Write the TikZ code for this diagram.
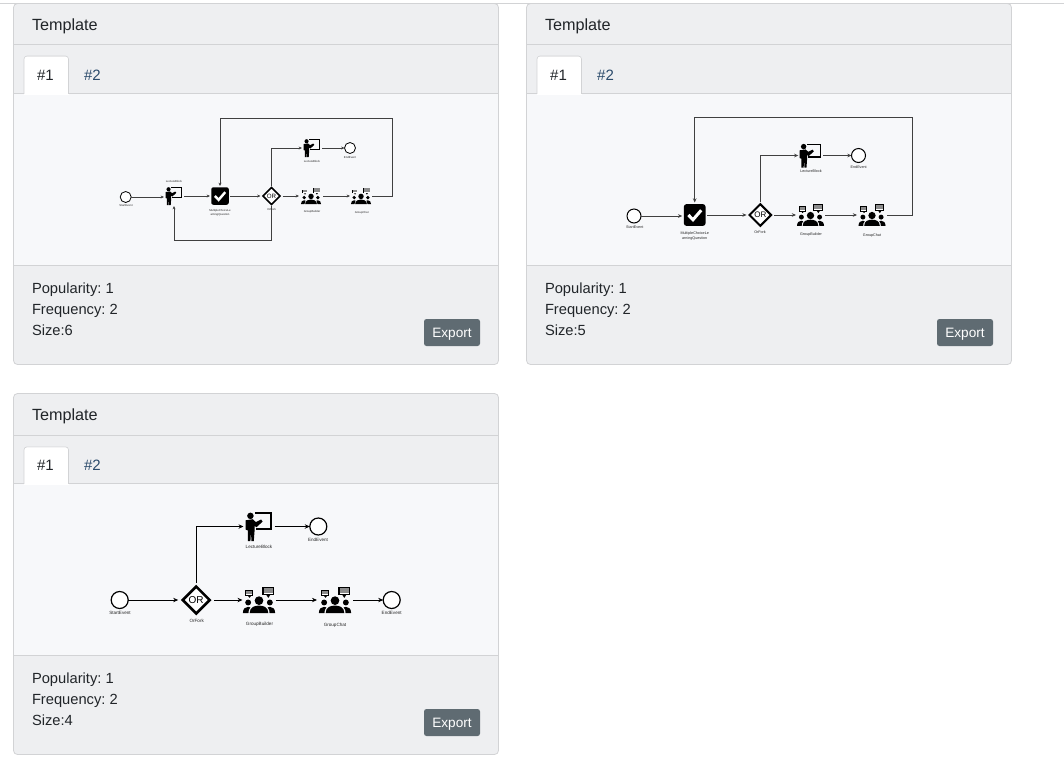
\documentclass[tikz,border=0pt]{standalone}
\usepackage{fontspec}
\setmainfont{Liberation Sans}
\usetikzlibrary{arrows.meta,shapes.geometric}
\definecolor{cardbg}{HTML}{EEEFF1}
\definecolor{bodybg}{HTML}{F7F8FA}
\definecolor{edgegrey}{HTML}{D2D3D5}
\definecolor{inktext}{HTML}{212529}
\definecolor{tablink}{HTML}{2A4A6B}
\definecolor{btn}{HTML}{5F6B72}
\definecolor{bubblegrey}{HTML}{8C8C8C}
\tikzset{
  txt/.style={anchor=base west,inner sep=0pt,text=inktext,font=\frenchspacing\fontsize{#1}{#1}\selectfont},
  tabtxt/.style={anchor=base,inner sep=0pt,font=\fontsize{15}{15}\selectfont},
  lbl/.style={inner sep=0pt,align=center,text=black!85,font=\fontsize{#1}{#1}\selectfont},
  hold/.style={inner sep=0pt,outer sep=0pt,rectangle},
  evt/.style={circle,draw=black,fill=white,inner sep=0pt,outer sep=0pt},
  conn/.style={draw=black!75,line width=#1},
  exportbtn/.style={fill=btn,rounded corners=2.5pt,text=white,inner sep=0pt,minimum width=56pt,minimum height=27pt,text height=9.7pt,text depth=0pt,font=\fontsize{13.6}{14}\selectfont},
}
\newcommand\lecglyph[2]{%
  \begin{scope}[shift={(#1.center)},scale=#2]
    \draw[black,line width=#2*8pt,line cap=butt] (-16,-51) -- (45,-51) -- (45,8) -- (-11,8);
    \fill[black] (-33,-41) circle (12.5);
    \fill[black] (-51,-24) -- (-24,-28) -- (-12,-17) -- (8,-27) -- (14,-19) -- (-10,3) -- (-17,-3)
      -- (-17,15) -- (-20,56) -- (-29,56) -- (-31,20) -- (-33,56) -- (-43,56) -- (-43,15) -- (-51,12) -- cycle;
  \end{scope}}
\newcommand\grpglyph[2]{%
  \begin{scope}[shift={(#1.center)},scale=#2]
    \fill[black] (0,2) circle (14);
    \fill[black] (-35,8) circle (9.5);
    \fill[black] (35,8) circle (9.5);
    \fill[black] (-30,42) .. controls (-30,22) and (-13,18) .. (0,18) .. controls (13,18) and (30,22) .. (30,42) -- cycle;
    \fill[black] (-52,42) .. controls (-52,28) and (-44,22) .. (-35,22) .. controls (-32,22) and (-30,23) .. (-28,24) .. controls (-33,29) and (-34,35) .. (-34,42) -- cycle;
    \fill[black] (52,42) .. controls (52,28) and (44,22) .. (35,22) .. controls (32,22) and (30,23) .. (28,24) .. controls (33,29) and (34,35) .. (34,42) -- cycle;
    \fill[black] (-45,-33) rectangle (-18,-13);
    \fill[black] (-36,-14) -- (-25,-14) -- (-30.5,-7) -- cycle;
    \fill[bubblegrey] (-41,-29) rectangle (-22,-17);
    \fill[white] (-41,-20) rectangle (-22,-17);
    \fill[black] (11,-43) rectangle (48,-15);
    \fill[black] (24,-16) -- (36,-16) -- (30,-7) -- cycle;
    \fill[bubblegrey] (15,-39) rectangle (44,-19);
    \fill[white] (15,-23) rectangle (44,-19);
  \end{scope}}
\newcommand\chkglyph[2]{%
  \begin{scope}[shift={(#1.center)},scale=#2]
    \fill[black,rounded corners=#2*12pt] (-50,-50) rectangle (50,50);
    \draw[white,line width=#2*14pt] (-29,0) -- (-8,22) -- (30,-22);
  \end{scope}}
\newcommand\cardframe[4]{% x, offset, id, tab offset
  \begin{scope}[shift={(#1,#2)}]
    \fill[white] (0,0) rectangle (485,361);
    \fill[cardbg,rounded corners=4pt] (0,0) rectangle (485,361);
    \fill[bodybg] (0.5,90) rectangle (484.5,262);
    \draw[edgegrey,line width=0.8pt,rounded corners=4pt] (0,0) rectangle (485,361);
    \draw[edgegrey,line width=0.8pt] (0,41+#4) -- (485,41+#4);
    \draw[edgegrey,line width=0.8pt] (0,90.3) -- (485,90.3);
    \draw[edgegrey,line width=0.8pt] (0,262) -- (485,262);
    \fill[white,rounded corners=3pt] (10.5,53+#4) -- (10.5,91) -- (55,91) -- (55,53+#4) -- cycle;
    \fill[white] (10.5,60+#4) rectangle (55,91);
    \draw[edgegrey,line width=0.6pt,rounded corners=3pt] (10.5,90.3) -- (10.5,52.5+#4) -- (55,52.5+#4) -- (55,90.3);
    \node[txt=16.2] (tpl#3) at (18.3,26.5) {Template};
    \node[tabtxt,text=inktext] (one#3) at (32,76.5+#4) {\#1};
    \node[tabtxt,text=tablink] (two#3) at (79,76.5+#4) {\#2};
    \node[txt=14.7] (pop#3) at (18.3,289.5) {Popularity: 1};
    \node[txt=14.7] (frq#3) at (18.3,310.5) {Frequency: 2};
    \node[exportbtn] (exp#3) at (438.5,329) {Export};
  \end{scope}}
\begin{document}
\begin{tikzpicture}[x=1pt,y=-1pt]
\useasboundingbox (0,0) rectangle (1064,756);
\fill[white] (0,0) rectangle (1064,756);
\cardframe{13.5}{3.5}{A}{0}
\cardframe{526.5}{3.5}{B}{0}
\cardframe{13.5}{393.5}{C}{0.8}
\draw[edgegrey,line width=0.8pt] (0,3.5) -- (1064,3.5);
\node[txt=14.7] (sizeA) at (31.8,335) {Size:6};
\node[txt=14.7] (sizeB) at (544.8,335) {Size:5};
\node[txt=14.7] (sizeC) at (31.8,725) {Size:4};

% ---------- diagram 1
\begin{scope}
\tikzset{tip/.style={-{Stealth[length=3.4pt,width=3pt]}}}
\node[evt,line width=.8pt,minimum size=11pt] (a1) at (125.7,197) {};
\node[hold,minimum width=20pt,minimum height=20pt] (a2) at (174,196) {};
\node[hold,minimum width=20pt,minimum height=20pt] (a3) at (220,196) {};
\node[hold,minimum width=22pt,minimum height=20pt] (a4) at (271.5,196) {};
\node[hold,minimum width=24pt,minimum height=16pt] (a5) at (311,196) {};
\node[hold,minimum width=22pt,minimum height=16pt] (a6) at (361,196) {};
\node[hold,minimum width=20pt,minimum height=20pt] (a7) at (312,148) {};
\node[evt,line width=.8pt,minimum size=11pt] (a8) at (350,148) {};
\lecglyph{a2}{.165}
\chkglyph{a3}{.175}
\node[diamond,draw=black,fill=white,line width=1.6pt,inner sep=0pt,minimum width=17.8pt,minimum height=17.8pt,font=\fontsize{6.2}{6}\selectfont] (a4d) at (a4.center) {OR};
\grpglyph{a5}{.195}
\grpglyph{a6}{.195}
\lecglyph{a7}{.165}
\coordinate (a9) at (392.7,118.3);
\coordinate (a10) at (271.5,240);
\draw[conn=.8pt,tip] (a1.east) -- (a2.west |- a1.east);
\draw[conn=.8pt,tip] (a2.east) -- (a3.west);
\draw[conn=.8pt,tip] (a3.east) -- (a4.west);
\draw[conn=.8pt,tip] (a4.east) -- (a5.west);
\draw[conn=.8pt,tip] (a5.east) -- (a6.west);
\draw[conn=.8pt,tip] (a6.east) -| (a9) -| (a3.north);
\draw[conn=.8pt,tip] (a4.north) |- (a7.west);
\draw[conn=.8pt,tip] (a7.east) -- (a8.west);
\draw[conn=.8pt,tip] (a4.south) -- (a10) -| (a2.south);
\node[lbl=2.8] (a1t) at (126,205.5) {StartEvent};
\node[lbl=2.8] (a2t) at (174,181) {LectureBlock};
\node[lbl=2.8] (a3t) at (220,212.5) {MultipleChoiceLe\\[1.2pt]arningQuestion};
\node[lbl=2.8] (a4t) at (271.7,209.7) {OrFork};
\node[lbl=2.8] (a5t) at (312,211.7) {GroupBuilder};
\node[lbl=2.8] (a6t) at (361.7,212.7) {GroupChat};
\node[lbl=2.8] (a7t) at (312,161.7) {LectureBlock};
\node[lbl=2.8] (a8t) at (350,157.7) {EndEvent};
\end{scope}

% ---------- diagram 2
\begin{scope}
\tikzset{tip/.style={-{Stealth[length=4.2pt,width=3.6pt]}}}
\node[evt,line width=1pt,minimum size=14pt] (b1) at (634,216) {};
\node[hold,minimum width=25pt,minimum height=25pt] (b2) at (694.7,215) {};
\node[hold,minimum width=27.5pt,minimum height=26pt] (b3) at (760.3,215) {};
\node[hold,minimum width=29pt,minimum height=22pt] (b4) at (810.5,215) {};
\node[hold,minimum width=30pt,minimum height=22pt] (b5) at (872,215) {};
\node[hold,minimum width=25pt,minimum height=24pt] (b6) at (810.8,155.5) {};
\node[evt,line width=1pt,minimum size=14pt] (b7) at (858.5,155.5) {};
\chkglyph{b2}{.217}
\node[diamond,draw=black,fill=white,line width=2.1pt,inner sep=0pt,minimum width=22.5pt,minimum height=22.5pt,font=\fontsize{8}{8}\selectfont] (b3d) at (b3.center) {OR};
\grpglyph{b4}{.26}
\grpglyph{b5}{.26}
\lecglyph{b6}{.217}
\coordinate (b8) at (912.3,117.7);
\draw[conn=1pt,tip] (b1.east) -- (b2.west |- b1.east);
\draw[conn=1pt,tip] (b2.east) -- (b3.west);
\draw[conn=1pt,tip] (b3.east) -- (b4.west);
\draw[conn=1pt,tip] (b4.east) -- (b5.west);
\draw[conn=1pt,tip] (b5.east) -| (b8) -| (b2.north);
\draw[conn=1pt,tip] (b3.north) |- (b6.west);
\draw[conn=1pt,tip] (b6.east) -- (b7.west);
\node[lbl=3.7] (b1t) at (634.7,227.7) {StartEvent};
\node[lbl=3.7] (b2t) at (694.7,236) {MultipleChoiceLe\\[1.4pt]arningQuestion};
\node[lbl=3.7] (b3t) at (760,231.7) {OrFork};
\node[lbl=3.7] (b4t) at (811,234.5) {GroupBuilder};
\node[lbl=3.7] (b5t) at (872,235.7) {GroupChat};
\node[lbl=3.7] (b6t) at (811,171.3) {LectureBlock};
\node[lbl=3.7] (b7t) at (858.7,166.7) {EndEvent};
\end{scope}

% ---------- diagram 3
\begin{scope}
\tikzset{tip/.style={-{Stealth[length=5pt,width=4.4pt]}}}
\node[evt,line width=1.2pt,minimum size=17pt] (c1) at (119.7,600) {};
\node[hold,minimum width=36pt,minimum height=34pt] (c2) at (196.2,600) {};
\node[hold,minimum width=33pt,minimum height=26pt] (c3) at (259,600) {};
\node[hold,minimum width=36pt,minimum height=26pt] (c4) at (335,600) {};
\node[evt,line width=1.2pt,minimum size=17pt] (c5) at (391.7,600) {};
\node[hold,minimum width=31pt,minimum height=29pt] (c6) at (259,526.5) {};
\node[evt,line width=1.2pt,minimum size=17pt] (c7) at (318.3,526.5) {};
\node[diamond,draw=black,fill=white,line width=2.6pt,inner sep=0pt,minimum width=28pt,minimum height=28pt,font=\fontsize{10}{10}\selectfont] (c2d) at (c2.center) {OR};
\grpglyph{c3}{.31}
\grpglyph{c4}{.31}
\lecglyph{c6}{.26}
\draw[conn=1pt,draw=black,tip] (c1.east) -- (c2.west |- c1.east);
\draw[conn=1pt,draw=black,tip] (c2.east) -- (c3.west);
\draw[conn=1pt,draw=black,tip] (c3.east) -- (c4.west);
\draw[conn=1pt,draw=black,tip] (c4.east) -- (c5.west);
\draw[conn=1pt,draw=black,tip] (c2.north) |- (c6.west);
\draw[conn=1pt,draw=black,tip] (c6.east) -- (c7.west);
\node[lbl=4.6] (c1t) at (120,613) {StartEvent};
\node[lbl=4.6] (c2t) at (196.7,621) {OrFork};
\node[lbl=4.6] (c3t) at (259.5,624) {GroupBuilder};
\node[lbl=4.6] (c4t) at (335,625) {GroupChat};
\node[lbl=4.6] (c5t) at (391.7,613) {EndEvent};
\node[lbl=4.6] (c6t) at (259,547) {LectureBlock};
\node[lbl=4.6] (c7t) at (318,540) {EndEvent};
\end{scope}
\end{tikzpicture}
\end{document}
